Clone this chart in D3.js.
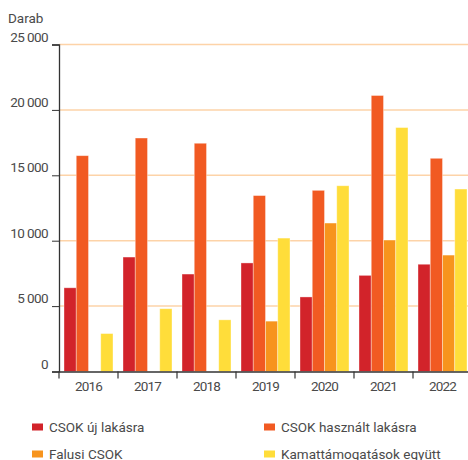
<!DOCTYPE html>
<html>
<head>
<meta charset="utf-8">
<script src="https://cdn.jsdelivr.net/npm/d3@7"></script>
<style>
  body { margin: 0; background: #fff; }
  svg text { font-family: "Roboto", sans-serif; fill: #4a4a4a; }
</style>
</head>
<body>
<svg id="chart" width="468" height="460"></svg>
<script>
// years on the x axis
var years = ["2016", "2017", "2018", "2019", "2020", "2021", "2022"];
// series (darab)
var csokUj       = [6400, 8750, 7450, 8300, 5700, 7350, 8200];
var csokHasznalt = [16500, 17850, 17450, 13450, 13850, 21100, 16300];
var falusi       = [0, 0, 0, 3850, 11350, 10050, 8900];
var kamat        = [2900, 4800, 3950, 10200, 14200, 18650, 13950];
var yTicks = [0, 5000, 10000, 15000, 20000, 25000];

var seriesNames = ["CSOK új lakásra", "CSOK használt lakásra", "Falusi CSOK", "Kamattámogatások együtt"];
var colors = ["#d2232a", "#f15a22", "#f7941d", "#ffdd3a"];
var seriesVals = [csokUj, csokHasznalt, falusi, kamat];

var svg = d3.select("#chart");
var mLeft = 59, mRight = 472, mTop = 44.5, mBottom = 371.5;

var x = d3.scaleBand().domain(years).range([mLeft, mRight]);
var inner = d3.scaleBand().domain(d3.range(4)).range([5, x.bandwidth() - 5]);
var y = d3.scaleLinear().domain([0, 25000]).range([mBottom, mTop]);

var fmt = function(d) { return d === 0 ? "0" : d3.format(",")(d).replace(",", " "); };

// gridlines
svg.append("g").selectAll("line")
  .data(yTicks.slice(1)).enter().append("line")
  .attr("x1", mLeft).attr("x2", 468)
  .attr("y1", function(d) { return y(d); })
  .attr("y2", function(d) { return y(d); })
  .attr("stroke", "#fdd3a8").attr("stroke-width", 1.5);

// bars
var groups = svg.append("g").selectAll("g")
  .data(years).enter().append("g")
  .attr("transform", function(d) { return "translate(" + x(d) + ",0)"; });

groups.selectAll("rect")
  .data(function(d, i) { return seriesVals.map(function(s, k) { return {k: k, v: s[i]}; }); })
  .enter().filter(function(d) { return d.v > 0; }).append("rect")
  .attr("x", function(d) { return inner(d.k); })
  .attr("width", inner.bandwidth())
  .attr("y", function(d) { return y(d.v); })
  .attr("height", function(d) { return mBottom - y(d.v); })
  .attr("fill", function(d) { return colors[d.k]; })
  .attr("stroke", "#fff").attr("stroke-opacity", 0.45).attr("stroke-width", 0.8);

// y axis
var yAxis = svg.append("g")
  .attr("transform", "translate(" + mLeft + ",0)")
  .call(d3.axisLeft(y).tickValues(yTicks).tickFormat(fmt).tickSize(7).tickPadding(4));
yAxis.select(".domain").attr("stroke", "#333").attr("stroke-width", 1.3);
yAxis.selectAll(".tick line").attr("stroke", "#333");
yAxis.selectAll("text").style("font-size", "13.5px").style("letter-spacing", "-0.6px").attr("dy", "-0.25em");

// x axis
var xAxis = svg.append("g")
  .attr("transform", "translate(0," + mBottom + ")")
  .call(d3.axisBottom(x).tickSize(0).tickPadding(10));
xAxis.select(".domain").attr("stroke", "#333").attr("stroke-width", 1.3);
xAxis.selectAll("text").style("font-size", "13.5px").style("letter-spacing", "-0.8px");
xAxis.append("g").selectAll("line")
  .data(years).enter().append("line")
  .attr("x1", function(d) { return x(d); }).attr("x2", function(d) { return x(d); })
  .attr("y1", 0).attr("y2", 7)
  .attr("stroke", "#333").attr("stroke-width", 1.2);

// unit label
svg.append("text").attr("x", 8).attr("y", 23)
  .style("font-size", "13.5px").text("Darab");

// legend
var legPos = [[32, 427], [264, 427], [32, 454], [264, 454]];
var leg = svg.append("g").selectAll("g")
  .data(seriesNames).enter().append("g")
  .attr("transform", function(d, i) { return "translate(" + legPos[i][0] + "," + legPos[i][1] + ")"; });
leg.append("rect").attr("x", 0).attr("y", -3.5).attr("width", 11).attr("height", 7)
  .attr("fill", function(d, i) { return colors[i]; });
leg.append("text").attr("x", 17).attr("y", 5)
  .style("font-size", "13.5px").text(function(d) { return d; });
</script>
</body>
</html>
